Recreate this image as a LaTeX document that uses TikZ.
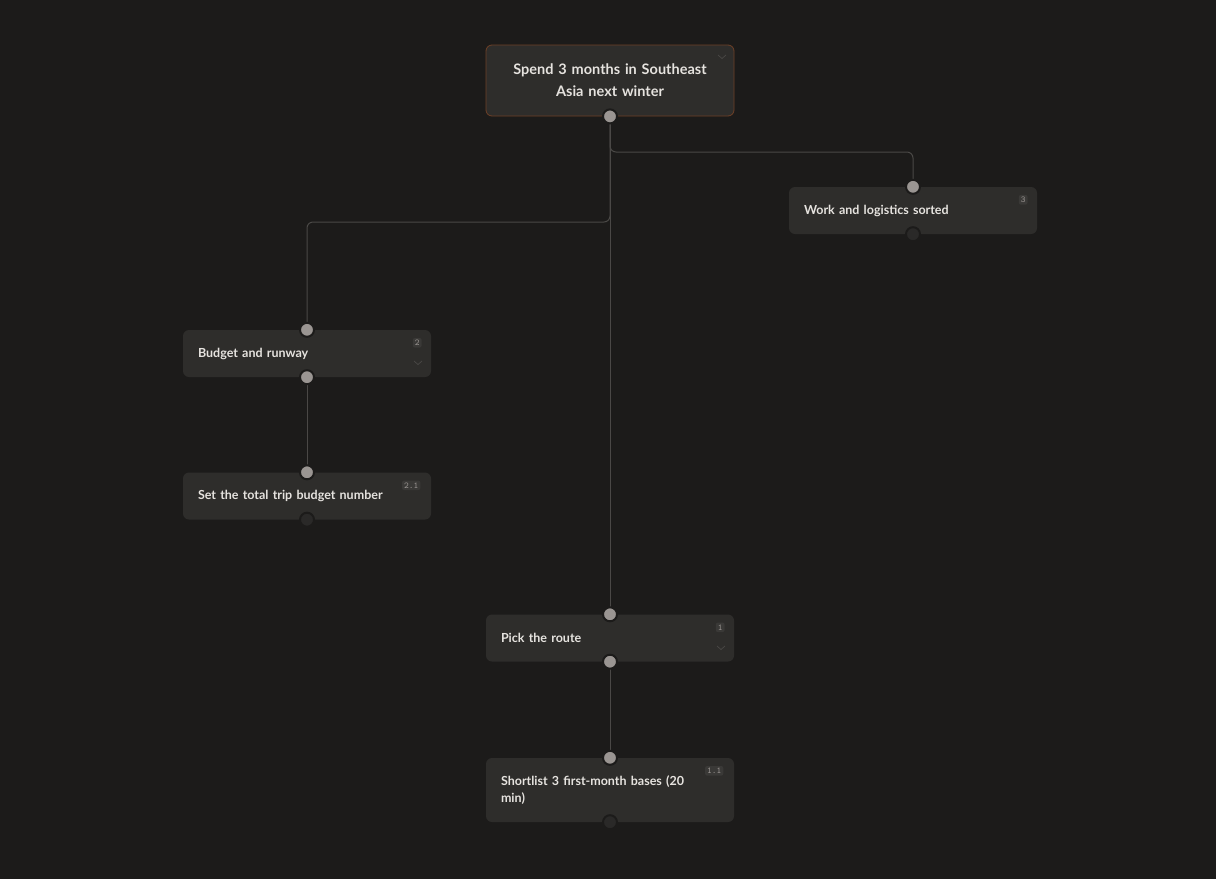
\documentclass[tikz,border=0pt]{standalone}
\usepackage{fontspec}
\setmainfont{Lato}
\usetikzlibrary{positioning}
\definecolor{bg}{HTML}{1C1B1A}
\definecolor{card}{HTML}{2E2D2B}
\definecolor{edge}{HTML}{4A4846}
\definecolor{port}{HTML}{9A9592}
\definecolor{portoff}{HTML}{2A2928}
\definecolor{rootline}{HTML}{6E4026}
\definecolor{txt}{HTML}{E6E3DF}
\definecolor{badge}{HTML}{3A3937}
\begin{document}
\begin{tikzpicture}[x=1pt,y=-1pt,
    card/.style={draw=none, fill=card, rounded corners=6pt, minimum width=248pt,
        minimum height=47pt, text width=218pt, align=left, text=txt,
        font=\bfseries\fontsize{12.5}{17}\selectfont},
    rootcard/.style={card, draw=rootline, line width=0.8pt, minimum height=71pt,
        align=center, font=\bfseries\fontsize{14.5}{22}\selectfont},
    port/.style={circle, fill=port, draw=bg, line width=2pt, inner sep=0pt, minimum size=14pt},
    portoff/.style={port, fill=portoff},
    badge/.style={fill=badge, rounded corners=2pt, inner sep=2pt, text=port,
        font=\ttfamily\fontsize{9}{9}\selectfont},
    chev/.style={draw=edge, line width=0.7pt},
    link/.style={draw=edge, line width=1pt, rounded corners=6pt}]

    \fill[bg] (0,0) rectangle (1216,879);

    % cards
    \node[rootcard] (goal) at (610,80.5) {Spend 3 months in Southeast\\Asia next winter};
    \node[card] (work) at (913,210.5) {Work and logistics sorted};
    \node[card] (budget) at (307,353.5) {Budget and runway};
    \node[card] (total) at (307,496) {Set the total trip budget number};
    \node[card] (route) at (610,638) {Pick the route};
    \node[card, minimum height=64pt] (short) at (610,790) {Shortlist 3 first-month bases (20\\min)};

    % connectors
    \draw[link] (goal.south) |- (760,152) -| (work.north);
    \draw[link] (goal.south) |- (460,222) -| (budget.north);
    \draw[link] (goal.south) -- (route.north);
    \draw[link] (budget.south) -- (total.north);
    \draw[link] (route.south) -- (short.north);

    % ports
    \node[port] at (goal.south) {};
    \node[port] at (work.north) {};
    \node[portoff] at (work.south) {};
    \node[port] at (budget.north) {};
    \node[port] at (budget.south) {};
    \node[port] at (total.north) {};
    \node[portoff] at (total.south) {};
    \node[port] at (route.north) {};
    \node[port] at (route.south) {};
    \node[port] at (short.north) {};
    \node[portoff] at (short.south) {};

    % badges
    \node[badge] at ([xshift=-14pt,yshift=-13pt]work.north east) {3};
    \node[badge] at ([xshift=-14pt,yshift=-13pt]budget.north east) {2};
    \node[badge] at ([xshift=-20pt,yshift=-13pt]total.north east) {2.1};
    \node[badge] at ([xshift=-14pt,yshift=-13pt]route.north east) {1};
    \node[badge] at ([xshift=-20pt,yshift=-13pt]short.north east) {1.1};

    % chevrons
    \draw[chev] (718,55) -- (722,58.5) -- (726,55);
    \draw[chev] (414,361) -- (418,364.5) -- (422,361);
    \draw[chev] (717,646) -- (721,649.5) -- (725,646);

\end{tikzpicture}
\end{document}
